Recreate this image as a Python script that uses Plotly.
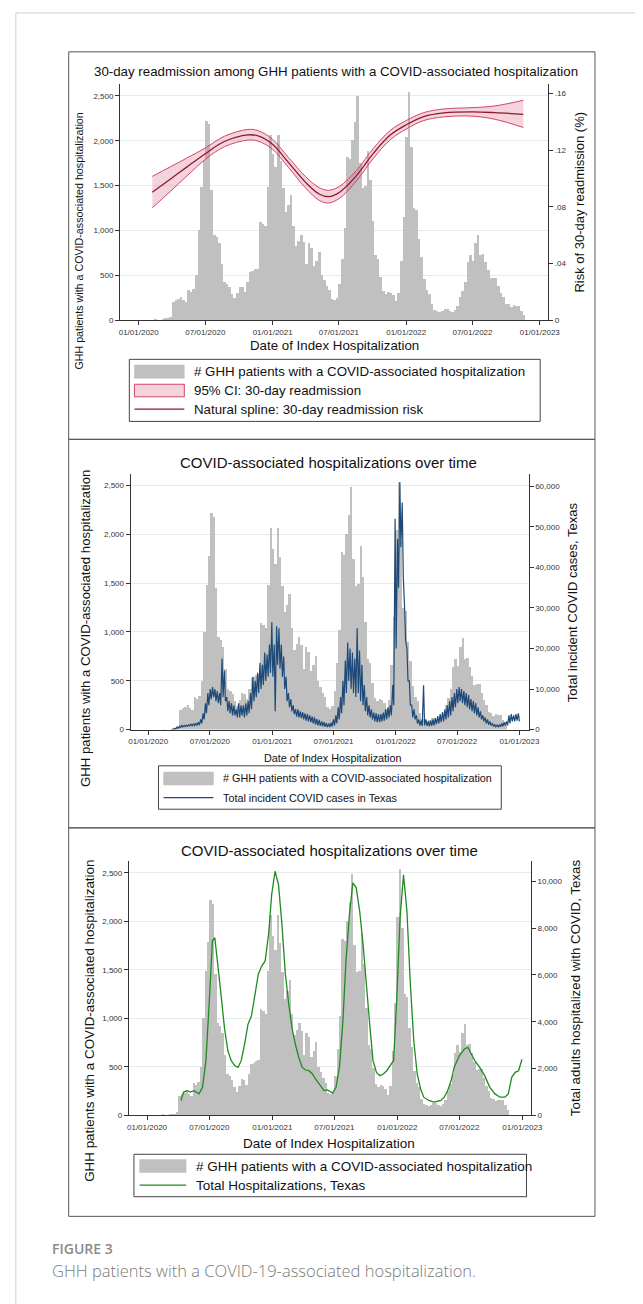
import pandas as pd
import plotly.graph_objects as go

W, H = 643, 1304
def X(px): return px / W
def Y(py): return 1 - py / H

# ---------------- data ----------------
week_start = "2020-01-01"
ghh_weekly = [0, 0, 0, 0, 0, 0, 5, 0, 0, 5,
              10, 15, 30, 200, 220, 230, 250, 220, 200, 330,
              310, 340, 500, 1000, 1480, 1780, 2220, 2180, 1450, 950,
              920, 850, 620, 420, 400, 360, 290, 240, 300, 370,
              360, 310, 420, 530, 540, 560, 570, 1090, 1070, 1040,
              1480, 2060, 1850, 1700, 2060, 1770, 1470, 1200, 1280, 1390,
              1040, 820, 880, 950, 870, 620, 850, 800, 600, 660,
              750, 500, 440, 380, 330, 230, 215, 240, 400, 680,
              1020, 1820, 1790, 2000, 2200, 2490, 1750, 1470, 1490, 1880,
              1560, 1100, 720, 680, 480, 320, 290, 310, 300, 270,
              210, 300, 660, 1150, 2040, 2540, 1930, 1250, 1220, 900,
              700, 450, 330, 290, 170, 110, 100, 90, 100, 120,
              120, 100, 90, 110, 150, 250, 320, 420, 640, 720,
              650, 850, 940, 720, 730, 640, 550, 460, 470, 470,
              380, 300, 250, 180, 170, 140, 160, 150, 150, 100,
              50]

cases_start = "2020-03-11"
cases_hi = [50, 300, 600, 800, 1000, 1000, 1100, 1200, 1300, 1500,
            1500, 1800, 2500, 4000, 6500, 9000, 10000, 10500, 10000, 9500,
            9000, 17500, 14500, 8000, 7000, 6500, 6000, 5000, 6500, 6000,
            6000, 6500, 7000, 9000, 13000, 12000, 14000, 16500, 16000, 19000,
            18500, 21000, 26500, 21000, 25500, 25000, 21000, 18000, 13000, 9000,
            7500, 6000, 5000, 5000, 4500, 4300, 4000, 3800, 3500, 3200,
            3000, 2600, 2400, 2000, 1800, 1600, 1500, 1700, 2500, 3500,
            5500, 8000, 12000, 17000, 21500, 20000, 19000, 17500, 25000, 19500,
            16000, 11000, 8000, 6000, 5000, 4200, 4000, 3800, 3800, 4200,
            5000, 5500, 6000, 11000, 52000, 47000, 61000, 56000, 30000, 20000,
            12000, 6000, 5000, 3500, 2500, 2200, 10900, 2500, 2000, 2200,
            2500, 2800, 3300, 3800, 4300, 5000, 6000, 7000, 8000, 9000,
            10000, 10500, 10000, 9500, 9000, 8500, 7500, 7000, 6500, 5500,
            4500, 3500, 3000, 2500, 2000, 1500, 1200, 1100, 1200, 1500,
            1800, 2000, 3500, 3800, 3500, 3800, 4000]
cases_lo = [0, 100, 300, 500, 600, 700, 800, 900, 900, 1000,
            1000, 1100, 1500, 2500, 4000, 6000, 7500, 8000, 7000, 6500,
            6000, 8000, 7000, 4500, 4000, 3500, 3500, 3000, 3000, 3500,
            3000, 3500, 4000, 5000, 7000, 8000, 9000, 10000, 11000, 12000,
            13000, 14000, 13000, 4500, 16000, 15000, 13000, 10000, 7000, 5500,
            4500, 3800, 3200, 3000, 2800, 2500, 2200, 2000, 1800, 1500,
            1200, 1000, 900, 800, 700, 600, 600, 700, 1000, 1500,
            2500, 4000, 6000, 9000, 12000, 10000, 9000, 8000, 9000, 7000,
            6000, 4500, 3500, 3000, 2500, 2000, 1800, 1800, 2000, 2200,
            2500, 3000, 3500, 6000, 20000, 35000, 45000, 38000, 22000, 12000,
            6000, 3000, 2500, 1500, 1000, 900, 1000, 900, 800, 900,
            1000, 1300, 1500, 1800, 2000, 2500, 3000, 3500, 4500, 5500,
            6500, 7000, 6500, 6000, 5500, 5000, 4500, 4000, 3500, 3000,
            2500, 2000, 1500, 1200, 1000, 800, 700, 600, 700, 800,
            1000, 1000, 1500, 2000, 2000, 2200, 2000]

hosp_dates = ["2020-04-09", "2020-04-17", "2020-04-27", "2020-05-07", "2020-05-17",
              "2020-06-01", "2020-06-11", "2020-06-21", "2020-07-01", "2020-07-10",
              "2020-07-17", "2020-07-25", "2020-08-04", "2020-08-14", "2020-08-24",
              "2020-09-03", "2020-09-13", "2020-09-23", "2020-10-02", "2020-10-12",
              "2020-10-22", "2020-11-01", "2020-11-11", "2020-11-21", "2020-12-01",
              "2020-12-11", "2020-12-21", "2020-12-30", "2021-01-09", "2021-01-19",
              "2021-01-29", "2021-02-08", "2021-02-18", "2021-02-27", "2021-03-09",
              "2021-03-19", "2021-03-29", "2021-04-08", "2021-04-18", "2021-04-28",
              "2021-05-07", "2021-05-17", "2021-06-01", "2021-06-11", "2021-06-26",
              "2021-07-06", "2021-07-16", "2021-07-26", "2021-08-04", "2021-08-14",
              "2021-08-24", "2021-09-03", "2021-09-13", "2021-09-23", "2021-10-03",
              "2021-10-13", "2021-10-22", "2021-11-01", "2021-11-11", "2021-11-21",
              "2021-12-01", "2021-12-11", "2021-12-21", "2021-12-30", "2022-01-09",
              "2022-01-19", "2022-01-29", "2022-02-08", "2022-02-18", "2022-02-28",
              "2022-03-10", "2022-03-19", "2022-04-03", "2022-04-18", "2022-05-08",
              "2022-05-18", "2022-05-28", "2022-06-07", "2022-06-16", "2022-07-01",
              "2022-07-16", "2022-07-26", "2022-08-05", "2022-08-15", "2022-08-29",
              "2022-09-13", "2022-09-28", "2022-10-13", "2022-10-28", "2022-11-11",
              "2022-11-21", "2022-12-01", "2022-12-11", "2022-12-21", "2022-12-31"]
hosp_values = [640, 1000, 1060, 1000, 1060, 920, 1200, 2340, 4900, 7450,
               7590, 6600, 5180, 3760, 2770, 2340, 2130, 2050, 2340, 3050,
               3900, 4250, 5180, 6030, 6380, 6600, 7730, 9430, 10430, 9860,
               8160, 6030, 4750, 3760, 3050, 2480, 2060, 1940, 1910, 1770,
               1560, 1350, 1060, 1090, 950, 1200, 2060, 4040, 6600, 8580,
               9930, 9720, 8720, 7300, 5320, 3760, 2340, 1840, 1700, 1770,
               1910, 2130, 2340, 4890, 8440, 10280, 8720, 5600, 3190, 1770,
               1130, 780, 640, 570, 640, 780, 1060, 1490, 2060, 2550,
               2840, 2910, 2620, 2340, 2060, 1700, 1200, 920, 780, 780,
               920, 1630, 1840, 1910, 2400]

spline_dates = ["2020-02-07", "2020-03-27", "2020-05-12", "2020-07-02", "2020-08-22",
                "2020-10-25", "2020-11-22", "2020-12-31", "2021-02-13", "2021-04-01",
                "2021-05-08", "2021-06-03", "2021-07-03", "2021-08-18", "2021-10-03",
                "2021-11-19", "2022-01-01", "2022-02-18", "2022-04-14", "2022-06-30",
                "2022-08-31", "2022-11-17"]
spline_est = [.0902, .0994, .1081, .1176, .1260, .1307, .1300, .1242, .1113, .0972,
              .0890, .0871, .0902, .1019, .1176, .1307, .1378, .1436, .1462, .1469,
              .1464, .1452]
spline_lo = [.0792, .0907, .1018, .1136, .1223, .1270, .1263, .1207, .1078, .0932,
             .0845, .0826, .0860, .0982, .1141, .1274, .1348, .1408, .1434, .1439,
             .1417, .1359]
spline_hi = [.1014, .1081, .1144, .1216, .1297, .1345, .1337, .1277, .1148, .1012,
             .0935, .0916, .0944, .1056, .1211, .1340, .1408, .1464, .1490, .1499,
             .1511, .1551]

date_ticks = ["2020-01-01", "2020-07-01", "2021-01-01", "2021-07-01",
              "2022-01-01", "2022-07-01", "2023-01-01"]
date_labels = ["01/01/2020", "07/01/2020", "01/01/2021", "07/01/2021",
               "01/01/2022", "07/01/2022", "01/01/2023"]
left_ticks = [0, 500, 1000, 1500, 2000, 2500]
left_labels = ["0", "500", "1,000", "1,500", "2,000", "2,500"]
risk_ticks = [0, .04, .08, .12, .16]
risk_labels = ["0", ".04", ".08", ".12", ".16"]
cases_ticks = [0, 10000, 20000, 30000, 40000, 50000, 60000]
cases_labels = ["0", "10,000", "20,000", "30,000", "40,000", "50,000", "60,000"]
hosp_ticks = [0, 2000, 4000, 6000, 8000, 10000]
hosp_labels = ["0", "2,000", "4,000", "6,000", "8,000", "10,000"]

# ---------------- derived x positions ----------------
bar_x = pd.date_range(week_start, periods=len(ghh_weekly), freq="7D") + pd.Timedelta(hours=84)
bar_w = 7 * 24 * 3600 * 1000
cw = pd.date_range(cases_start, periods=len(cases_hi), freq="7D")
cases_x, cases_y = [], []
for d, hi, lo in zip(cw, cases_hi, cases_lo):
    cases_x += [d + pd.Timedelta(days=1), d + pd.Timedelta(days=4)]
    cases_y += [hi, lo]

FONT = "Liberation Sans, Arial, sans-serif"
BAR_COLOR = "#c0c0c0"
GRID = "#e3ecec"
AX = "#333333"

fig = go.Figure()
# Panel 1
fig.add_trace(go.Bar(x=bar_x, y=ghh_weekly, width=bar_w, marker_color=BAR_COLOR,
                     marker_line_width=0, xaxis="x", yaxis="y"))
fig.add_trace(go.Scatter(x=spline_dates, y=spline_lo, mode="lines", line=dict(color="#d1456b", width=1, shape="spline"),
                         xaxis="x", yaxis="y2"))
fig.add_trace(go.Scatter(x=spline_dates, y=spline_hi, mode="lines", line=dict(color="#d1456b", width=1, shape="spline"),
                         fill="tonexty", fillcolor="rgba(222,110,140,0.30)", xaxis="x", yaxis="y2"))
fig.add_trace(go.Scatter(x=spline_dates, y=spline_est, mode="lines", line=dict(color="#8b1a2c", width=1.3, shape="spline"),
                         xaxis="x", yaxis="y2"))
# Panel 2
fig.add_trace(go.Bar(x=bar_x, y=ghh_weekly, width=bar_w, marker_color=BAR_COLOR,
                     marker_line_width=0, xaxis="x2", yaxis="y3"))
fig.add_trace(go.Scatter(x=cases_x, y=cases_y, mode="lines", line=dict(color="#1d4a78", width=1.2),
                         xaxis="x2", yaxis="y4"))
# Panel 3
fig.add_trace(go.Bar(x=bar_x, y=ghh_weekly, width=bar_w, marker_color=BAR_COLOR,
                     marker_line_width=0, xaxis="x3", yaxis="y5"))
fig.add_trace(go.Scatter(x=hosp_dates, y=hosp_values, mode="lines", line=dict(color="#1f8a1f", width=1.3),
                         xaxis="x3", yaxis="y6"))

def xax(dom, rng, anchor):
    return dict(type="date", domain=dom, range=rng, anchor=anchor, tickvals=date_ticks, ticktext=date_labels,
                ticks="outside", ticklen=4, tickcolor=AX, showline=True, linecolor=AX, linewidth=1,
                showgrid=False, zeroline=False, tickfont=dict(family=FONT, size=8, color=AX))

def yleft(dom, rng, anchor):
    return dict(domain=dom, range=rng, anchor=anchor, tickvals=left_ticks, ticktext=left_labels,
                ticks="outside", ticklen=4, tickcolor=AX, showline=True, linecolor=AX, linewidth=1,
                showgrid=True, gridcolor=GRID, gridwidth=1, zeroline=False,
                tickfont=dict(family=FONT, size=8, color=AX))

def yright(over, rng, anchor, tv, tt):
    return dict(overlaying=over, side="right", range=rng, anchor=anchor, tickvals=tv, ticktext=tt,
                ticks="outside", ticklen=4, tickcolor=AX, showline=True, linecolor=AX, linewidth=1,
                showgrid=False, zeroline=False, tickfont=dict(family=FONT, size=8, color=AX))

p1x = [X(112.5), X(550.2)]; p1y = [Y(313.3), Y(76.7)]
p2x = [X(123.3), X(530.1)]; p2y = [Y(724.3), Y(467.7)]
p3x = [X(121.5), X(532.5)]; p3y = [Y(1111.7), Y(856.7)]

fig.update_layout(
    width=W, height=H, margin=dict(l=0, r=0, t=0, b=0),
    paper_bgcolor="white", plot_bgcolor="white", showlegend=False, bargap=0,
    xaxis=xax(p1x, ["2019-11-11", "2023-01-24"], "y"),
    yaxis=yleft(p1y, [0, 2629], "x"),
    yaxis2=yright("y", [0, 0.1663], "x", risk_ticks, risk_labels),
    xaxis2=xax(p2x, ["2019-11-10", "2023-01-28"], "y3"),
    yaxis3=yleft(p2y, [0, 2618], "x2"),
    yaxis4=yright("y3", [0, 63084], "x2", cases_ticks, cases_labels),
    xaxis3=xax(p3x, ["2019-11-09", "2023-01-26"], "y5"),
    yaxis5=yleft(p3y, [0, 2619], "x3"),
    yaxis6=yright("y5", [0, 10849], "x3", hosp_ticks, hosp_labels),
)

shapes = []
annos = []

def box(x0, y0, x1, y1, color="#555555", width=1, fill=None):
    shapes.append(dict(type="rect", xref="paper", yref="paper", x0=X(x0), x1=X(x1), y0=Y(y1), y1=Y(y0),
                       line=dict(color=color, width=width), fillcolor=fill if fill else "rgba(0,0,0,0)"))

def hline(x0, x1, y, color, width):
    shapes.append(dict(type="line", xref="paper", yref="paper", x0=X(x0), x1=X(x1), y0=Y(y), y1=Y(y),
                       line=dict(color=color, width=width)))

def vline(x, y0, y1, color, width):
    shapes.append(dict(type="line", xref="paper", yref="paper", x0=X(x), x1=X(x), y0=Y(y0), y1=Y(y1),
                       line=dict(color=color, width=width)))

def text(x, y, s, size, anchor="center", angle=0, color="#111111", family=FONT, weight=None):
    f = dict(family=family, size=size, color=color)
    if weight:
        f["weight"] = weight
    annos.append(dict(xref="paper", yref="paper", x=X(x), y=Y(y), text=s, showarrow=False,
                      xanchor=anchor, yanchor="middle", textangle=angle, font=f))

# outer page frame
vline(6, 5, 1304, "#cfcfcf", 1)
hline(6, 643, 5, "#cfcfcf", 1)

# panel frames
box(60, 44, 598, 433)
box(60, 433, 598, 823)
box(60, 823, 598, 1213)

# titles
text(333, 63.3, "30-day readmission among GHH patients with a COVID-associated hospitalization", 13.3)
text(326, 456.7, "COVID-associated hospitalizations over time", 15)
text(327, 846, "COVID-associated hospitalizations over time", 15)

# axis titles
ylab = "GHH patients with a COVID-associated hospitalization"
text(331.5, 338.3, "Date of Index Hospitalization", 13.3)
text(70.5, 233.5, ylab, 10.7, angle=-90)
text(582, 195, "Risk of 30-day readmission (%)", 13, angle=-90)

text(329.6, 753, "Date of Index Hospitalization", 10.8)
text(77, 623, ylab, 13.2, angle=-90)
text(575, 596, "Total incident COVID cases, Texas", 13, angle=-90)

text(326.5, 1140, "Date of Index Hospitalization", 13.5)
text(81, 1016.5, ylab, 13.4, angle=-90)
text(577.5, 983, "Total adults hospitalized with COVID, Texas", 13.3, angle=-90)

# legend panel 1
box(122, 352.7, 542, 415, color="#444444", width=1)
box(127.2, 358.3, 178.2, 371.7, color=BAR_COLOR, width=0.5, fill=BAR_COLOR)
box(127.2, 377.7, 178.2, 390.3, color="#d1456b", width=1, fill="rgba(222,110,140,0.30)")
hline(127.2, 178.2, 402.7, "#8b1a2c", 1.3)
text(186, 365, "# GHH patients with a COVID-associated hospitalization", 13.3, anchor="left")
text(186, 384, "95% CI: 30-day readmission", 13.3, anchor="left")
text(186, 403, "Natural spline: 30-day readmission risk", 13.3, anchor="left")

# legend panel 2
box(151.8, 760.7, 502.2, 804.3, color="#444444", width=1)
box(157, 767, 208, 780, color=BAR_COLOR, width=0.5, fill=BAR_COLOR)
hline(157, 208, 792.7, "#1d4a78", 1.2)
text(215.2, 773.3, "# GHH patients with a COVID-associated hospitalization", 10.8, anchor="left")
text(215.2, 792.7, "Total incident COVID cases in Texas", 10.8, anchor="left")

# legend panel 3
box(126.7, 1150.7, 528, 1193.3, color="#444444", width=1)
box(132.5, 1156, 180, 1169, color=BAR_COLOR, width=0.5, fill=BAR_COLOR)
hline(132.5, 180, 1181.7, "#1f8a1f", 1.3)
text(188.5, 1163.3, "# GHH patients with a COVID-associated hospitalization", 13.5, anchor="left")
text(188.5, 1181.7, "Total Hospitalizations, Texas", 13.5, anchor="left")

# caption
text(41, 1245, "FIGURE 3", 14, anchor="left", color="#8a8a8a", family="Open Sans", weight=600)
text(41, 1267, "GHH patients with a COVID-19-associated hospitalization.", 16.5, anchor="left",
     color="#7a7a7a", family="Open Sans", weight=300)

fig.update_layout(shapes=shapes, annotations=annos)
fig.write_html("out.html")
